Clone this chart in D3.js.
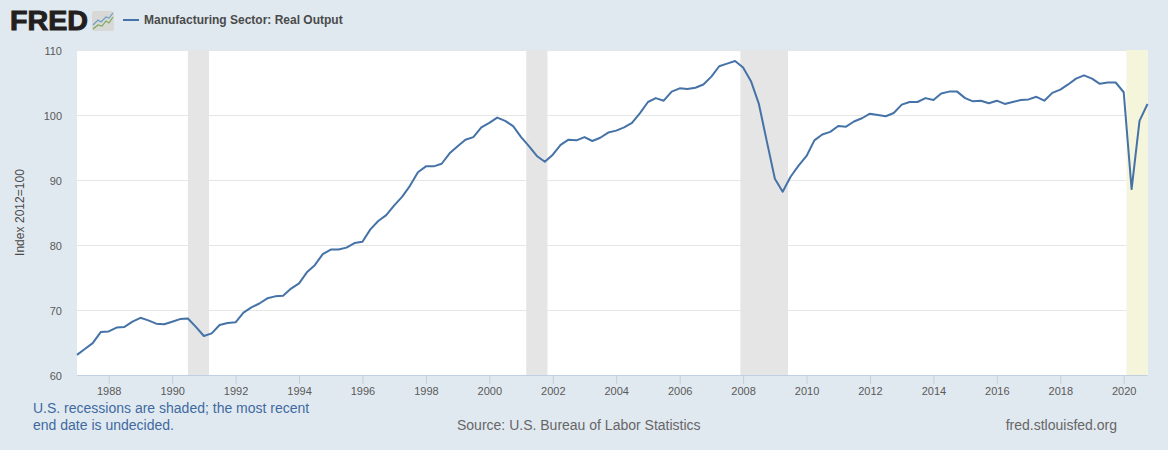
<!DOCTYPE html>
<html>
<head>
<meta charset="utf-8">
<style>
  html, body { margin: 0; padding: 0; background: #e1e9f0; }
  svg { display: block; font-family: "Liberation Sans", Arial, sans-serif; }
</style>
<script src="https://cdn.jsdelivr.net/npm/d3@7"></script>
</head>
<body>
<svg id="chart" width="1168" height="450"></svg>
<script>
// quarterly, 1987 Q1 onward
var startYear = 1987;
var values = [
  63.1, 64.0, 64.9, 66.6,
  66.7, 67.3, 67.4, 68.2,
  68.8, 68.4, 67.9, 67.8,
  68.2, 68.6, 68.7, 67.4,
  66.0, 66.4, 67.7, 68.0,
  68.1, 69.6, 70.4, 71.0,
  71.8, 72.1, 72.2, 73.3,
  74.1, 75.8, 76.9, 78.6,
  79.3, 79.3, 79.6, 80.3,
  80.5, 82.4, 83.7, 84.6,
  86.1, 87.4, 89.1, 91.2,
  92.1, 92.1, 92.5, 94.1,
  95.2, 96.2, 96.6, 98.1,
  98.8, 99.6, 99.1, 98.3,
  96.6, 95.2, 93.7, 92.8,
  93.9, 95.4, 96.2, 96.1,
  96.6, 96.0, 96.5, 97.3,
  97.6, 98.1, 98.8, 100.3,
  102.0, 102.6, 102.2, 103.6,
  104.1, 104.0, 104.2, 104.7,
  105.9, 107.5, 107.9, 108.3,
  107.3, 105.2, 101.7, 95.9,
  90.2, 88.2, 90.5, 92.2,
  93.7, 96.1, 97.0, 97.4,
  98.3, 98.2, 99.0, 99.5,
  100.2, 100.0, 99.8, 100.3,
  101.6, 102.0, 102.0, 102.6,
  102.3, 103.3, 103.6, 103.6,
  102.6, 102.1, 102.2, 101.8,
  102.2, 101.7, 102.0, 102.3,
  102.4, 102.8, 102.2, 103.4,
  103.9, 104.7, 105.6, 106.1,
  105.6, 104.8, 105.0, 105.0,
  103.5, 88.6, 99.1, 101.7
];
var recessionStarts = ["1990-07-01", "2001-03-01", "2007-12-01", "2020-02-01"];
var recessionEnds = ["1991-03-01", "2001-11-01", "2009-06-01", "2020-10-01"];
var yTicks = [60, 70, 80, 90, 100, 110];
var xTickYears = d3.range(1988, 2021, 2);

var parseDate = d3.utcParse("%Y-%m-%d");
var dates = values.map(function(v, i) {
    return new Date(Date.UTC(startYear, i * 3, 1));
});

var svg = d3.select("#chart");

var x = d3.scaleUtc()
    .domain([dates[0], dates[dates.length - 1]])
    .range([77, 1147.5]);
var y = d3.scaleLinear()
    .domain([60, 110])
    .range([375, 50]);

// plot background
svg.append("rect")
    .attr("x", x.range()[0])
    .attr("y", y.range()[1])
    .attr("width", x.range()[1] - x.range()[0])
    .attr("height", y.range()[0] - y.range()[1])
    .attr("fill", "#fff");

// gridlines
var yAxis = d3.axisLeft(y)
    .tickValues(yTicks)
    .tickSize(-(x.range()[1] - x.range()[0]))
    .tickPadding(15);
var yG = svg.append("g")
    .attr("transform", "translate(77,0)")
    .call(yAxis);
yG.select(".domain").remove();
yG.selectAll("line").attr("stroke", "#e6e6e6").attr("stroke-width", 1);
yG.selectAll("text")
    .attr("fill", "#595959")
    .attr("font-size", 11)
    .attr("dy", "0.42em")
    .attr("font-family", "Liberation Sans, Arial, sans-serif");

// recession bands
var bands = svg.append("g");
recessionStarts.forEach(function(s, i) {
    var x0 = x(parseDate(s));
    var x1 = x(parseDate(recessionEnds[i]));
    bands.append("rect")
        .attr("x", x0)
        .attr("y", y.range()[1])
        .attr("width", x1 - x0)
        .attr("height", y.range()[0] - y.range()[1])
        .attr("fill", i == 3 ? "#f5f5dc" : "#e5e5e5");
});

// x axis
var xAxis = d3.axisBottom(x)
    .tickValues(xTickYears.map(function(yr) { return new Date(Date.UTC(yr, 0, 1)); }))
    .tickFormat(d3.utcFormat("%Y"))
    .tickSize(9)
    .tickPadding(3);
var xG = svg.append("g")
    .attr("transform", "translate(0,375)")
    .call(xAxis);
xG.select(".domain").attr("stroke", "#c0d0e0").attr("d", "M77,0.5H1147.5");
xG.selectAll("line").attr("stroke", "#c0d0e0");
xG.selectAll("text")
    .attr("fill", "#595959")
    .attr("font-size", 11)
    .attr("font-family", "Liberation Sans, Arial, sans-serif");

// series
var line = d3.line()
    .x(function(d, i) { return x(dates[i]); })
    .y(function(d) { return y(d); });
svg.append("path")
    .datum(values)
    .attr("d", line)
    .attr("fill", "none")
    .attr("stroke", "#4572a7")
    .attr("stroke-width", 2)
    .attr("stroke-linejoin", "round");

// y axis title
svg.append("text")
    .attr("transform", "translate(24,212.5) rotate(-90)")
    .attr("text-anchor", "middle")
    .attr("font-size", 12)
    .attr("fill", "#4a4a4a")
    .attr("textLength", 87)
    .text("Index 2012=100");

// logo
svg.append("text")
    .attr("x", 10)
    .attr("y", 30)
    .attr("font-size", 27.5)
    .attr("font-weight", "bold")
    .attr("stroke", "#231f20")
    .attr("stroke-width", 1)
    .attr("fill", "#231f20")
    .attr("textLength", 78)
    .attr("lengthAdjust", "spacingAndGlyphs")
    .text("FRED");

var logo = svg.append("g").attr("transform", "translate(92,11)");
logo.append("rect")
    .attr("width", 22)
    .attr("height", 20)
    .attr("rx", 2)
    .attr("fill", "#d8d9d6");
logo.append("path")
    .attr("d", "M1,14L6,9L9,11L14,6L17,7L21,2")
    .attr("fill", "none")
    .attr("stroke", "#6d9ec4")
    .attr("stroke-width", 1.2);
logo.append("path")
    .attr("d", "M1,18L6,14L10,15L14,10L17,12L21,6")
    .attr("fill", "none")
    .attr("stroke", "#7fa85a")
    .attr("stroke-width", 1.2);

// legend
svg.append("line")
    .attr("x1", 123).attr("x2", 139)
    .attr("y1", 20).attr("y2", 20)
    .attr("stroke", "#4572a7")
    .attr("stroke-width", 2);
svg.append("text")
    .attr("x", 144)
    .attr("y", 24)
    .attr("font-size", 12)
    .attr("font-weight", "bold")
    .attr("fill", "#4a4a4a")
    .text("Manufacturing Sector: Real Output");

// footer
var note = svg.append("text")
    .attr("font-size", 14)
    .attr("fill", "#3e6aa0");
note.append("tspan").attr("x", 33).attr("y", 413).text("U.S. recessions are shaded; the most recent");
note.append("tspan").attr("x", 33).attr("y", 430).text("end date is undecided.");

svg.append("text")
    .attr("x", 457)
    .attr("y", 430)
    .attr("font-size", 14)
    .attr("fill", "#666")
    .text("Source: U.S. Bureau of Labor Statistics");
svg.append("text")
    .attr("x", 1117)
    .attr("y", 430)
    .attr("text-anchor", "end")
    .attr("font-size", 14)
    .attr("fill", "#666")
    .text("fred.stlouisfed.org");
</script>
</body>
</html>
